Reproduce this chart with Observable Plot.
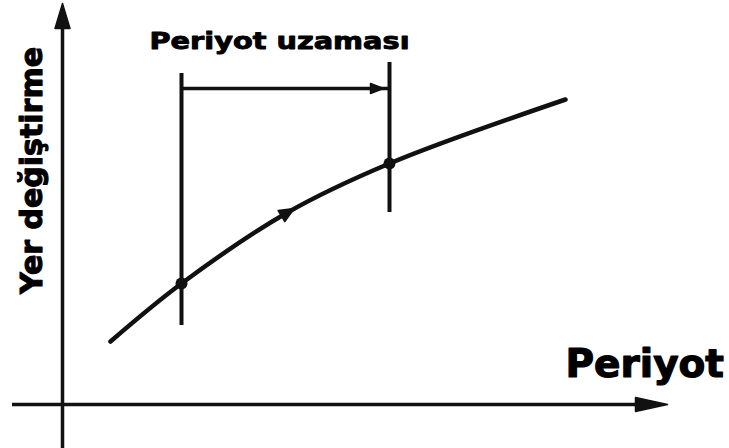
<!DOCTYPE html>
<html>
<head>
<meta charset="utf-8">
<script src="https://cdn.jsdelivr.net/npm/d3@7"></script>
<script src="https://cdn.jsdelivr.net/npm/@observablehq/plot@0.6"></script>
<style>
  html, body { margin: 0; padding: 0; background: #fff; }
  #chart svg { display: block; }
</style>
</head>
<body>
<div id="chart"></div>
<script>
// ---- data (x = period, y = displacement, arbitrary units) ----
const curveX = [4.8, 11.9, 22.5, 32.7, 50.3];
const curveY = [6.3, 12.1, 19.2, 24.1, 30.5];

const markX = [11.9, 32.7];          // two periods
const markY = [12.1, 24.1];          // displacement at those periods
const guideBottom = [7.9, 19.2];
const guideTop = [33.1, 34.2];
const bracketY = 31.6;

const curveArrowX = [22.5];
const curveArrowY = [19.2];

const xAxisFrom = -5.0, xAxisTip = 60.5;
const yAxisFrom = -4.4, yAxisTip = 40.1;

const titleText = "Periyot uzaması";
const xLabel = "Periyot";
const yLabel = "Yer değiştirme";

// ---- derived tables ----
const curve = curveX.map((x, i) => ({x, y: curveY[i]}));
const marks = markX.map((x, i) => ({x, y: markY[i]}));
const guides = markX.map((x, i) => ({x, y1: guideBottom[i], y2: guideTop[i]}));

function tri(tipX, tipY, dx, dy, len, half, id) {
  const bx = tipX - dx * len, by = tipY - dy * len;
  const px = -dy, py = dx;
  return [
    {x: tipX, y: tipY, id},
    {x: bx + px * half, y: by + py * half, id},
    {x: bx - px * half, y: by - py * half, id},
    {x: tipX, y: tipY, id}
  ];
}
const dirLen = Math.hypot(0.87, 0.52);
const cdx = 0.87 / dirLen, cdy = 0.52 / dirLen;
const heads = [
  ...tri(xAxisTip, 0, 1, 0, 3.2, 0.7, "xa"),
  ...tri(0, yAxisTip, 0, 1, 2.5, 0.75, "ya"),
  ...tri(markX[1] - 0.6, bracketY, 1, 0, 1.3, 0.5, "br"),
  ...tri(curveArrowX[0] + cdx * 0.8, curveArrowY[0] + cdy * 0.8, cdx, cdy, 1.5, 0.65, "cv")
];

const font = "DejaVu Sans, sans-serif";

const chart = Plot.plot({
  width: 729,
  height: 448,
  margin: 0,
  x: {domain: [-6.2, 66.7], axis: null},
  y: {domain: [-4.4, 40.4], axis: null},
  style: {background: "#fff"},
  marks: [
    Plot.ruleY([0], {x1: xAxisFrom, x2: xAxisTip - 1, stroke: "#111", strokeWidth: 3.5}),
    Plot.ruleX([0], {y1: yAxisFrom, y2: yAxisTip - 1, stroke: "#111", strokeWidth: 3.5}),
    Plot.ruleX(guides, {x: "x", y1: "y1", y2: "y2", stroke: "#111", strokeWidth: 4}),
    Plot.ruleY([bracketY], {x1: markX[0], x2: markX[1], stroke: "#111", strokeWidth: 3.5}),
    Plot.line(curve, {x: "x", y: "y", curve: "catmull-rom", stroke: "#111", strokeWidth: 4.5, strokeLinecap: "round"}),
    Plot.line(heads, {x: "x", y: "y", z: "id", fill: "#111", stroke: "#111", strokeWidth: 1.5, strokeLinejoin: "round"}),
    Plot.dot(marks, {x: "x", y: "y", r: 6, fill: "#111", stroke: "none"}),
    Plot.text([titleText], {x: 21.7, y: 36.3, text: d => d, fontFamily: font, fontWeight: "bold", fontSize: 23, fill: "#000", stroke: "#000", strokeWidth: 0.9, textAnchor: "middle", lineAnchor: "middle"}),
    Plot.text([xLabel], {x: 50.3, y: 3.95, text: d => d, fontFamily: font, fontWeight: "bold", fontSize: 39, fill: "#000", stroke: "#000", strokeWidth: 1.2, textAnchor: "start", lineAnchor: "middle"}),
    Plot.text([yLabel], {x: -3.0, y: 23.4, text: d => d, rotate: -90, fontFamily: font, fontWeight: "bold", fontSize: 30, fill: "#000", stroke: "#000", strokeWidth: 1.1, textAnchor: "middle", lineAnchor: "middle"})
  ]
});

d3.select(chart).selectAll("text").each(function() {
  if (this.textContent === titleText) {
    d3.select(this).attr("textLength", 260).attr("lengthAdjust", "spacingAndGlyphs");
  }
});

document.getElementById("chart").appendChild(chart);
</script>
</body>
</html>
